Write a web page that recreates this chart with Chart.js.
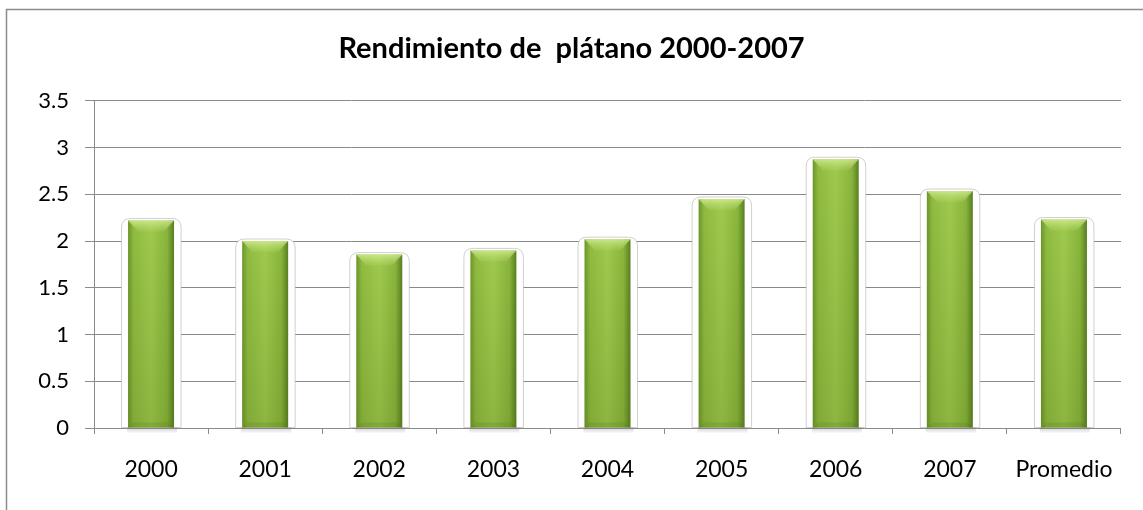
<!DOCTYPE html>
<html>
<head>
<meta charset="utf-8">
<script src="https://cdn.jsdelivr.net/npm/chart.js@4"></script>
<style>
  html, body { margin: 0; padding: 0; background: #fff; }
  #wrap { width: 1143px; height: 510px; }
</style>
</head>
<body>
<div id="wrap"><canvas id="chart"></canvas></div>
<script>
var categories = ["2000", "2001", "2002", "2003", "2004", "2005", "2006", "2007", "Promedio"];
var rendimiento = [2.22, 2.0, 1.855, 1.9, 2.02, 2.45, 2.875, 2.535, 2.23];
var yTicks = [0, 0.5, 1, 1.5, 2, 2.5, 3, 3.5];

var FONT = "Lato, 'Open Sans', sans-serif";

// frame around the whole chart (only top and left edges fall inside the picture)
var framePlugin = {
  id: "frame",
  beforeDraw: function (chart) {
    var c = chart.ctx;
    c.save();
    c.fillStyle = "#fff";
    c.fillRect(0, 0, chart.width, chart.height);
    c.strokeStyle = "#8c8c8c";
    c.lineWidth = 1.5;
    c.strokeRect(6.5, 9.5, chart.width + 20, chart.height + 20);
    c.restore();
  }
};

function roundRect(c, x, y, w, h, r) {
  c.beginPath();
  c.moveTo(x + r, y);
  c.lineTo(x + w - r, y);
  c.quadraticCurveTo(x + w, y, x + w, y + r);
  c.lineTo(x + w, y + h);
  c.lineTo(x, y + h);
  c.lineTo(x, y + r);
  c.quadraticCurveTo(x, y, x + r, y);
  c.closePath();
}

// soft glow box behind each bar, bevel on top
var glowPlugin = {
  id: "glow",
  beforeDatasetsDraw: function (chart) {
    var c = chart.ctx;
    var meta = chart.getDatasetMeta(0);
    c.save();
    meta.data.forEach(function (bar) {
      var w = bar.width;
      var x0 = bar.x - w / 2 - 6.5;
      var y0 = bar.y - 2;
      roundRect(c, x0, y0, w + 13.5, bar.base - y0, 9);
      c.fillStyle = "#fff";
      c.fill();
      c.strokeStyle = "rgba(170,170,170,0.55)";
      c.lineWidth = 1;
      c.stroke();
      // shadow under the bar
      var sg = c.createLinearGradient(0, bar.base, 0, bar.base + 6);
      sg.addColorStop(0, "rgba(120,120,120,0.35)");
      sg.addColorStop(1, "rgba(120,120,120,0)");
      c.fillStyle = sg;
      c.fillRect(bar.x - w / 2 - 1, bar.base, w + 4, 6);
    });
    c.restore();
  },
  afterDatasetsDraw: function (chart) {
    var c = chart.ctx;
    var meta = chart.getDatasetMeta(0);
    c.save();
    meta.data.forEach(function (bar) {
      var w = bar.width;
      var l = bar.x - w / 2, r = bar.x + w / 2, t = bar.y, b = bar.base;
      // darken toward the bottom
      var vg = c.createLinearGradient(0, t, 0, b);
      vg.addColorStop(0, "rgba(60,90,10,0)");
      vg.addColorStop(1, "rgba(60,90,10,0.18)");
      c.fillStyle = vg;
      c.fillRect(l, t, w, b - t);
      // top bevel
      var g = c.createLinearGradient(0, t, 0, t + 11);
      g.addColorStop(0, "rgba(215,238,150,0.8)");
      g.addColorStop(1, "rgba(190,225,120,0.15)");
      c.beginPath();
      c.moveTo(l, t); c.lineTo(r, t); c.lineTo(r - 10, t + 11); c.lineTo(l + 10, t + 11);
      c.closePath();
      c.fillStyle = g;
      c.fill();
      // faint bottom bevel
      c.beginPath();
      c.moveTo(l, b); c.lineTo(r, b); c.lineTo(r - 5, b - 5); c.lineTo(l + 5, b - 5);
      c.closePath();
      c.fillStyle = "rgba(70,100,20,0.15)";
      c.fill();
    });
    c.restore();
  }
};

function barFill(context) {
  var chart = context.chart;
  var area = chart.chartArea;
  if (!area) return "#9cc64a";
  var xs = chart.scales.x;
  var cx = xs.getPixelForValue(context.dataIndex);
  var half = xs.width / categories.length * 0.403 / 2;
  var g = chart.ctx.createLinearGradient(cx - half, 0, cx + half, 0);
  g.addColorStop(0, "#6c962a");
  g.addColorStop(0.12, "#8fbb40");
  g.addColorStop(0.5, "#9fca4e");
  g.addColorStop(0.85, "#8ab53c");
  g.addColorStop(1, "#587f20");
  return g;
}

new Chart(document.getElementById("chart"), {
  type: "bar",
  data: {
    labels: categories,
    datasets: [{
      label: "Rendimiento",
      data: rendimiento,
      backgroundColor: barFill,
      borderWidth: 0,
      categoryPercentage: 1,
      barPercentage: 0.403
    }]
  },
  options: {
    responsive: true,
    maintainAspectRatio: false,
    animation: false,
    layout: { padding: 0 },
    plugins: {
      legend: { display: false },
      tooltip: { enabled: false },
      title: {
        display: true,
        text: "Rendimiento de  plátano 2000-2007",
        color: "#000",
        font: { family: FONT, size: 29, weight: "bold", lineHeight: 1.2 },
        padding: { top: 31, bottom: 35 }
      }
    },
    scales: {
      x: {
        grid: {
          offset: true,
          drawOnChartArea: false,
          drawTicks: true,
          tickLength: 6,
          color: "#8a8a8a"
        },
        border: { display: false },
        ticks: {
          color: "#000",
          padding: 22,
          font: { family: FONT, size: 23 }
        },
        afterFit: function (scale) { scale.height = 82; }
      },
      y: {
        min: 0,
        max: 3.5,
        afterBuildTicks: function (scale) {
          scale.ticks = yTicks.map(function (v) { return { value: v }; });
        },
        grid: { color: "#8a8a8a", tickLength: 9, lineWidth: 1 },
        border: { color: "#8a8a8a" },
        ticks: {
          color: "#000",
          padding: 16,
          font: { family: FONT, size: 22 },
          callback: function (value) { return String(value); }
        },
        afterFit: function (scale) { scale.width = 94; }
      },
      // empty spacer on the right so the title centres on the full width
      right: {
        position: "right",
        min: 0,
        max: 3.5,
        grid: { display: false },
        border: { display: false },
        ticks: { display: false },
        afterFit: function (scale) { scale.width = 22; }
      }
    }
  },
  plugins: [framePlugin, glowPlugin]
});
</script>
</body>
</html>
